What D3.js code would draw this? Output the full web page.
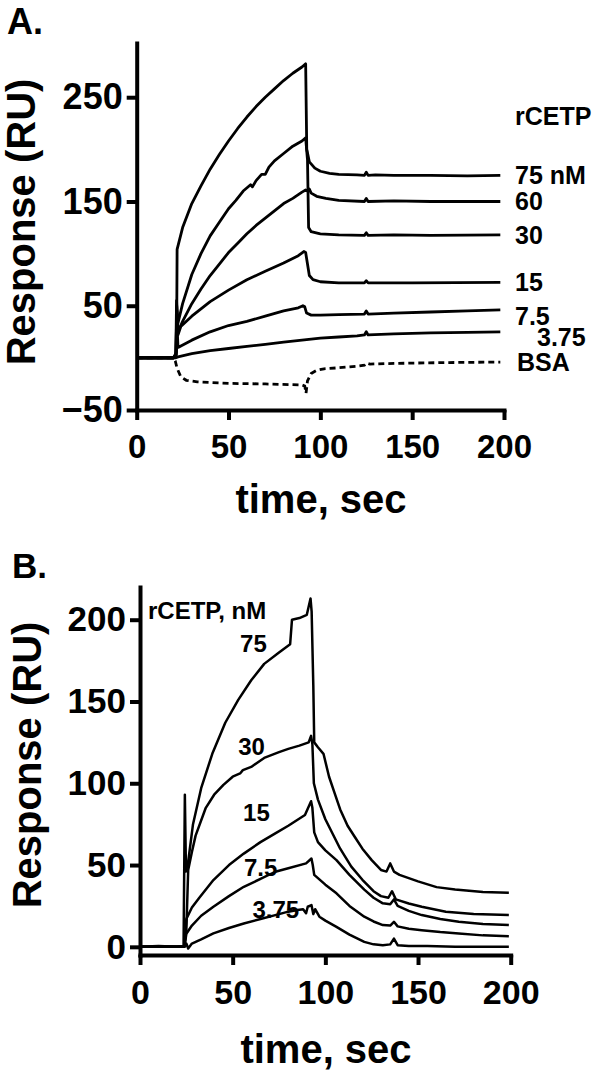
<!DOCTYPE html>
<html>
<head>
<meta charset="utf-8">
<script src="https://cdn.jsdelivr.net/npm/d3@7"></script>
<style>
  body { margin: 0; background: #fff; }
  svg { display: block; }
  text { font-family: "Liberation Sans", Arial, sans-serif; font-weight: bold; fill: #000; }
</style>
</head>
<body>
<svg width="600" height="1074"></svg>
<script>
// ---- panel A: sensorgrams, [time s, response RU]
var a75 = [[0,0],[20,0],[21.3,1],[21.8,40],[22,104],[25,125],[30,148],[35,165],[40,181],[45,195],[50,208],[55,220],[60,231],[65,241],[70,250],[75,258],[80,266],[85,273],[90,279],[92,282],[92.6,200],[94,188],[97,182],[100,179],[105,177],[110,176],[120,175.5],[124,175],[125,178],[126,175],[130,175.5],[140,175],[160,175],[180,174.5],[198,175]];
var aMid = [[0,0],[20,0],[21.3,2],[21.7,55],[22.3,32],[25,52],[30,80],[35,100],[40,117],[45,130],[50,143],[54,151],[58,160],[62,166],[63,164],[65,170],[68,176],[70,176],[72,183],[75,189],[80,196],[85,203],[90,208],[92,211],[93,190],[93.6,125],[95,121],[100,119],[110,118],[124,117.5],[125,120],[126,117.5],[140,118],[160,117.5],[198,118]];
var aLow = [[0,0],[20,0],[21.4,3],[21.8,50],[22.5,25],[25,35],[30,52],[35,66],[40,79],[45,90],[50,101],[55,110],[60,119],[65,127],[70,134],[75,141],[80,148],[85,153],[90,159],[92,161],[93,160],[94,162],[95,158],[98,155],[103,153],[110,151],[124,150],[125,153],[126,150],[140,150.5],[160,150],[198,150]];
var a15 = [[0,0],[20,0],[21.5,5],[21.9,45],[22.5,22],[24,30],[30,40],[40,54],[50,65],[60,75],[70,83],[80,91],[88,98],[91,102],[92,101],[93,90],[94,79],[96,75],[100,73],[110,72],[124,72],[125,74],[126,72],[150,72],[198,72.5]];
var a7 = [[0,0],[20,0],[21.5,3],[22,30],[22.5,10],[30,17],[40,25],[50,31],[60,35],[70,40],[80,45],[88,48],[90.5,50],[91.5,49],[92.5,43],[95,41],[100,41],[110,41.5],[124,42],[125,45],[126,42],[140,43],[160,44],[180,45],[198,46]];
var a3 = [[0,0],[21,0],[22.5,1],[30,4],[40,7],[50,9],[60,11],[70,13],[80,15],[90,17],[95,18],[100,19],[110,20],[120,21],[124,22],[125,25],[126,22],[140,23],[160,24],[180,24.5],[198,25]];
var aBSA = [[0,0],[20,0],[21,-3],[22,-10],[24,-18],[27,-21.5],[33,-23],[50,-24.5],[70,-25],[90,-26],[91.5,-27],[92.2,-34],[93,-22],[95,-15],[98,-12],[102,-10.5],[110,-9.5],[120,-8],[124,-7],[125,-5],[127,-6],[135,-5.5],[150,-5],[170,-4.5],[198,-4]];
var aSeries = [a75, aLow, aMid, a15, a7, a3];
var aLabels = ["75 nM", "60", "30", "15", "7.5", "3.75"];
var aTicksX = [0, 50, 100, 150, 200];
var aTicksY = [-50, 50, 150, 250];

// ---- panel B
var b75 = [[0,0],[10,0.5],[20,0],[23.5,0.5],[24.2,93],[24.8,46],[26,52],[28.6,75],[33,97],[39,118],[46,137],[53,151],[60,163],[67,173],[75,180],[81,185],[82,200],[86,201],[90,203],[92,213],[92.6,205],[93.5,160],[94,125],[96,122],[99,118],[102,104],[105,94],[108,84],[112,74],[116,67],[120,60],[125,53],[130,47],[133,46],[135,51],[137,46],[140,44],[145,42],[150,40],[160,36.5],[170,35],[185,33.5],[199,33]];
var b30 = [[0,0],[20,0],[24,0.5],[25,10],[26,47],[28,58],[30,68],[35.5,85],[40,93],[45,99],[50,104],[54,106],[55.5,108],[60,110],[67,115.5],[75,119],[80,121],[86,123],[91,125],[92.3,129],[93,124],[93.8,100],[96,90],[100,78],[104,69],[108,60],[114,49],[120,41],[126,34],[130,31],[134,30],[136,34],[138,29],[145,26.5],[152,24.5],[165,21.5],[180,20],[199,19.5]];
var b15 = [[0,0],[20,0],[24,0.5],[25,17],[28,24],[32,30],[39.6,40.8],[48,50],[56,57],[65,64],[73,69.4],[80,74],[89,80.6],[92.3,89],[93,85],[94,70],[96,64],[100,59],[106,53],[113,44],[121,35],[126,30],[131,26.6],[135,26],[137,29],[139,25],[145,22],[152,19.4],[162,17],[172,15.3],[185,14],[199,13.3]];
var b7 = [[0,0],[20,0],[24,0],[25,8],[28,13],[33,19],[39.6,24.5],[48,31],[56,36.7],[65,41.5],[73,45.9],[80,48],[89.6,51],[92.5,54],[93.2,50],[94,44],[96,42],[100,38],[106,32.7],[113,25],[121,18.4],[126,15.5],[131,13.3],[135,13],[137,15.3],[139,12.5],[145,11],[152,10.2],[162,9],[172,8.2],[185,7],[199,6.5]];
var b3 = [[0,0],[20,0],[24,0],[25,2],[26,-1],[28,2],[33,4.5],[39.6,8.2],[48,11.5],[56,14.3],[65,17],[73,19.4],[80,21.5],[85,22.5],[88,23],[89.6,20.5],[90.5,24.5],[92.5,25.5],[93.5,20],[94.5,23],[96.8,18.4],[100,16],[106,12.2],[113,7.5],[121,3],[126,1.5],[131,1],[135,1.5],[137,5],[139,1],[145,0.5],[155,0.5],[170,0],[185,0],[199,0]];
var bSeries = [b75, b30, b15, b7, b3];
var bLabels = ["75", "30", "15", "7.5", "3.75"];
var bTicksX = [0, 50, 100, 150, 200];
var bTicksY = [0, 50, 100, 150, 200];

var svg = d3.select('svg');

function panel(xr, yr, xd, yd, xt, yt, fsx, fsy) {
  var x = d3.scaleLinear().domain(xd).range(xr);
  var y = d3.scaleLinear().domain(yd).range(yr);
  var g = svg.append('g');

  var ya = g.append('g')
    .attr('transform', 'translate(' + xr[0] + ',0)')
    .call(d3.axisLeft(y).tickValues(yt).tickSize(10).tickSizeOuter(0).tickPadding(4));
  var xa = g.append('g')
    .attr('transform', 'translate(0,' + yr[0] + ')')
    .call(d3.axisBottom(x).tickValues(xt).tickSize(10).tickSizeOuter(0).tickPadding(15));
  [xa, ya].forEach(function (a) {
    a.select('.domain').attr('stroke-width', 4).attr('stroke-linecap', 'square');
    a.selectAll('.tick line').attr('stroke-width', 4);
    a.selectAll('text').attr('fill', '#000');
  });
  xa.selectAll('text').style('font-size', fsx + 'px');
  ya.selectAll('text').style('font-size', fsy + 'px');
  return {x: x, y: y, g: g};
}

var line = function (p) {
  return d3.line().x(function (d) { return p.x(d[0]); }).y(function (d) { return p.y(d[1]); });
};

// ---- A
var A = panel([136.7, 504], [410, 43], [0, 200], [-50, 302], aTicksX, aTicksY, 33, 36);
A.g.append('g').selectAll('path')
  .data(aSeries).enter().append('path')
  .attr('d', line(A))
  .attr('fill', 'none').attr('stroke', '#000').attr('stroke-width', 2.8).attr('stroke-linejoin', 'round');
A.g.append('path').datum(aBSA)
  .attr('d', line(A))
  .attr('fill', 'none').attr('stroke', '#000').attr('stroke-width', 2.8).attr('stroke-dasharray', '6,4');

A.g.selectAll('.slab').data(aLabels).enter().append('text')
  .attr('x', function (d, i) { return A.x(200) + (i == 5 ? 33 : 11); })
  .attr('y', function (d, i) { var s = aSeries[i]; return A.y(s[s.length - 1][1]) + (i == 4 ? 6 : i == 5 ? 5 : 0); })
  .attr('dy', '0.36em')
  .style('font-size', '25px')
  .text(function (d) { return d; });
A.g.append('text').attr('x', A.x(200) + 11).attr('y', A.y(232)).attr('dy', '0.36em').style('font-size', '25px').text('rCETP');
A.g.append('text').attr('x', A.x(200) + 13).attr('y', A.y(aBSA[aBSA.length - 1][1])).attr('dy', '0.36em').style('font-size', '25px').text('BSA');

svg.append('text').attr('x', 7).attr('y', 34).style('font-size', '36px').text('A.');
svg.append('text').attr('x', 321).attr('y', 513).attr('text-anchor', 'middle').style('font-size', '40px').text('time, sec');
svg.append('text').attr('transform', 'translate(35,222) rotate(-90)').attr('text-anchor', 'middle').style('font-size', '40px').text('Response (RU)');

// ---- B
var B = panel([140, 510.7], [955, 587], [0, 200], [-5, 220], bTicksX, bTicksY, 34, 35);
B.g.append('g').selectAll('path')
  .data(bSeries).enter().append('path')
  .attr('d', line(B))
  .attr('fill', 'none').attr('stroke', '#000').attr('stroke-width', 2.5).attr('stroke-linejoin', 'round');

var bLabT = [54, 53, 55.6, 56.1, 60.7];
var bLabV = [185.3, 122.3, 82.5, 48.3, 22.7];
B.g.selectAll('.slab').data(bLabels).enter().append('text')
  .attr('x', function (d, i) { return B.x(bLabT[i]); })
  .attr('y', function (d, i) { return B.y(bLabV[i]); })
  .attr('dy', '0.36em')
  .style('font-size', '24px')
  .text(function (d) { return d; });
B.g.append('text').attr('x', B.x(4.3)).attr('y', B.y(206)).attr('dy', '0.36em').style('font-size', '24px').text('rCETP, nM');

svg.append('text').attr('x', 12).attr('y', 578).style('font-size', '35px').text('B.');
svg.append('text').attr('x', 326).attr('y', 1063).attr('text-anchor', 'middle').style('font-size', '40px').text('time, sec');
svg.append('text').attr('transform', 'translate(41,765) rotate(-90)').attr('text-anchor', 'middle').style('font-size', '40px').text('Response (RU)');
</script>
</body>
</html>
